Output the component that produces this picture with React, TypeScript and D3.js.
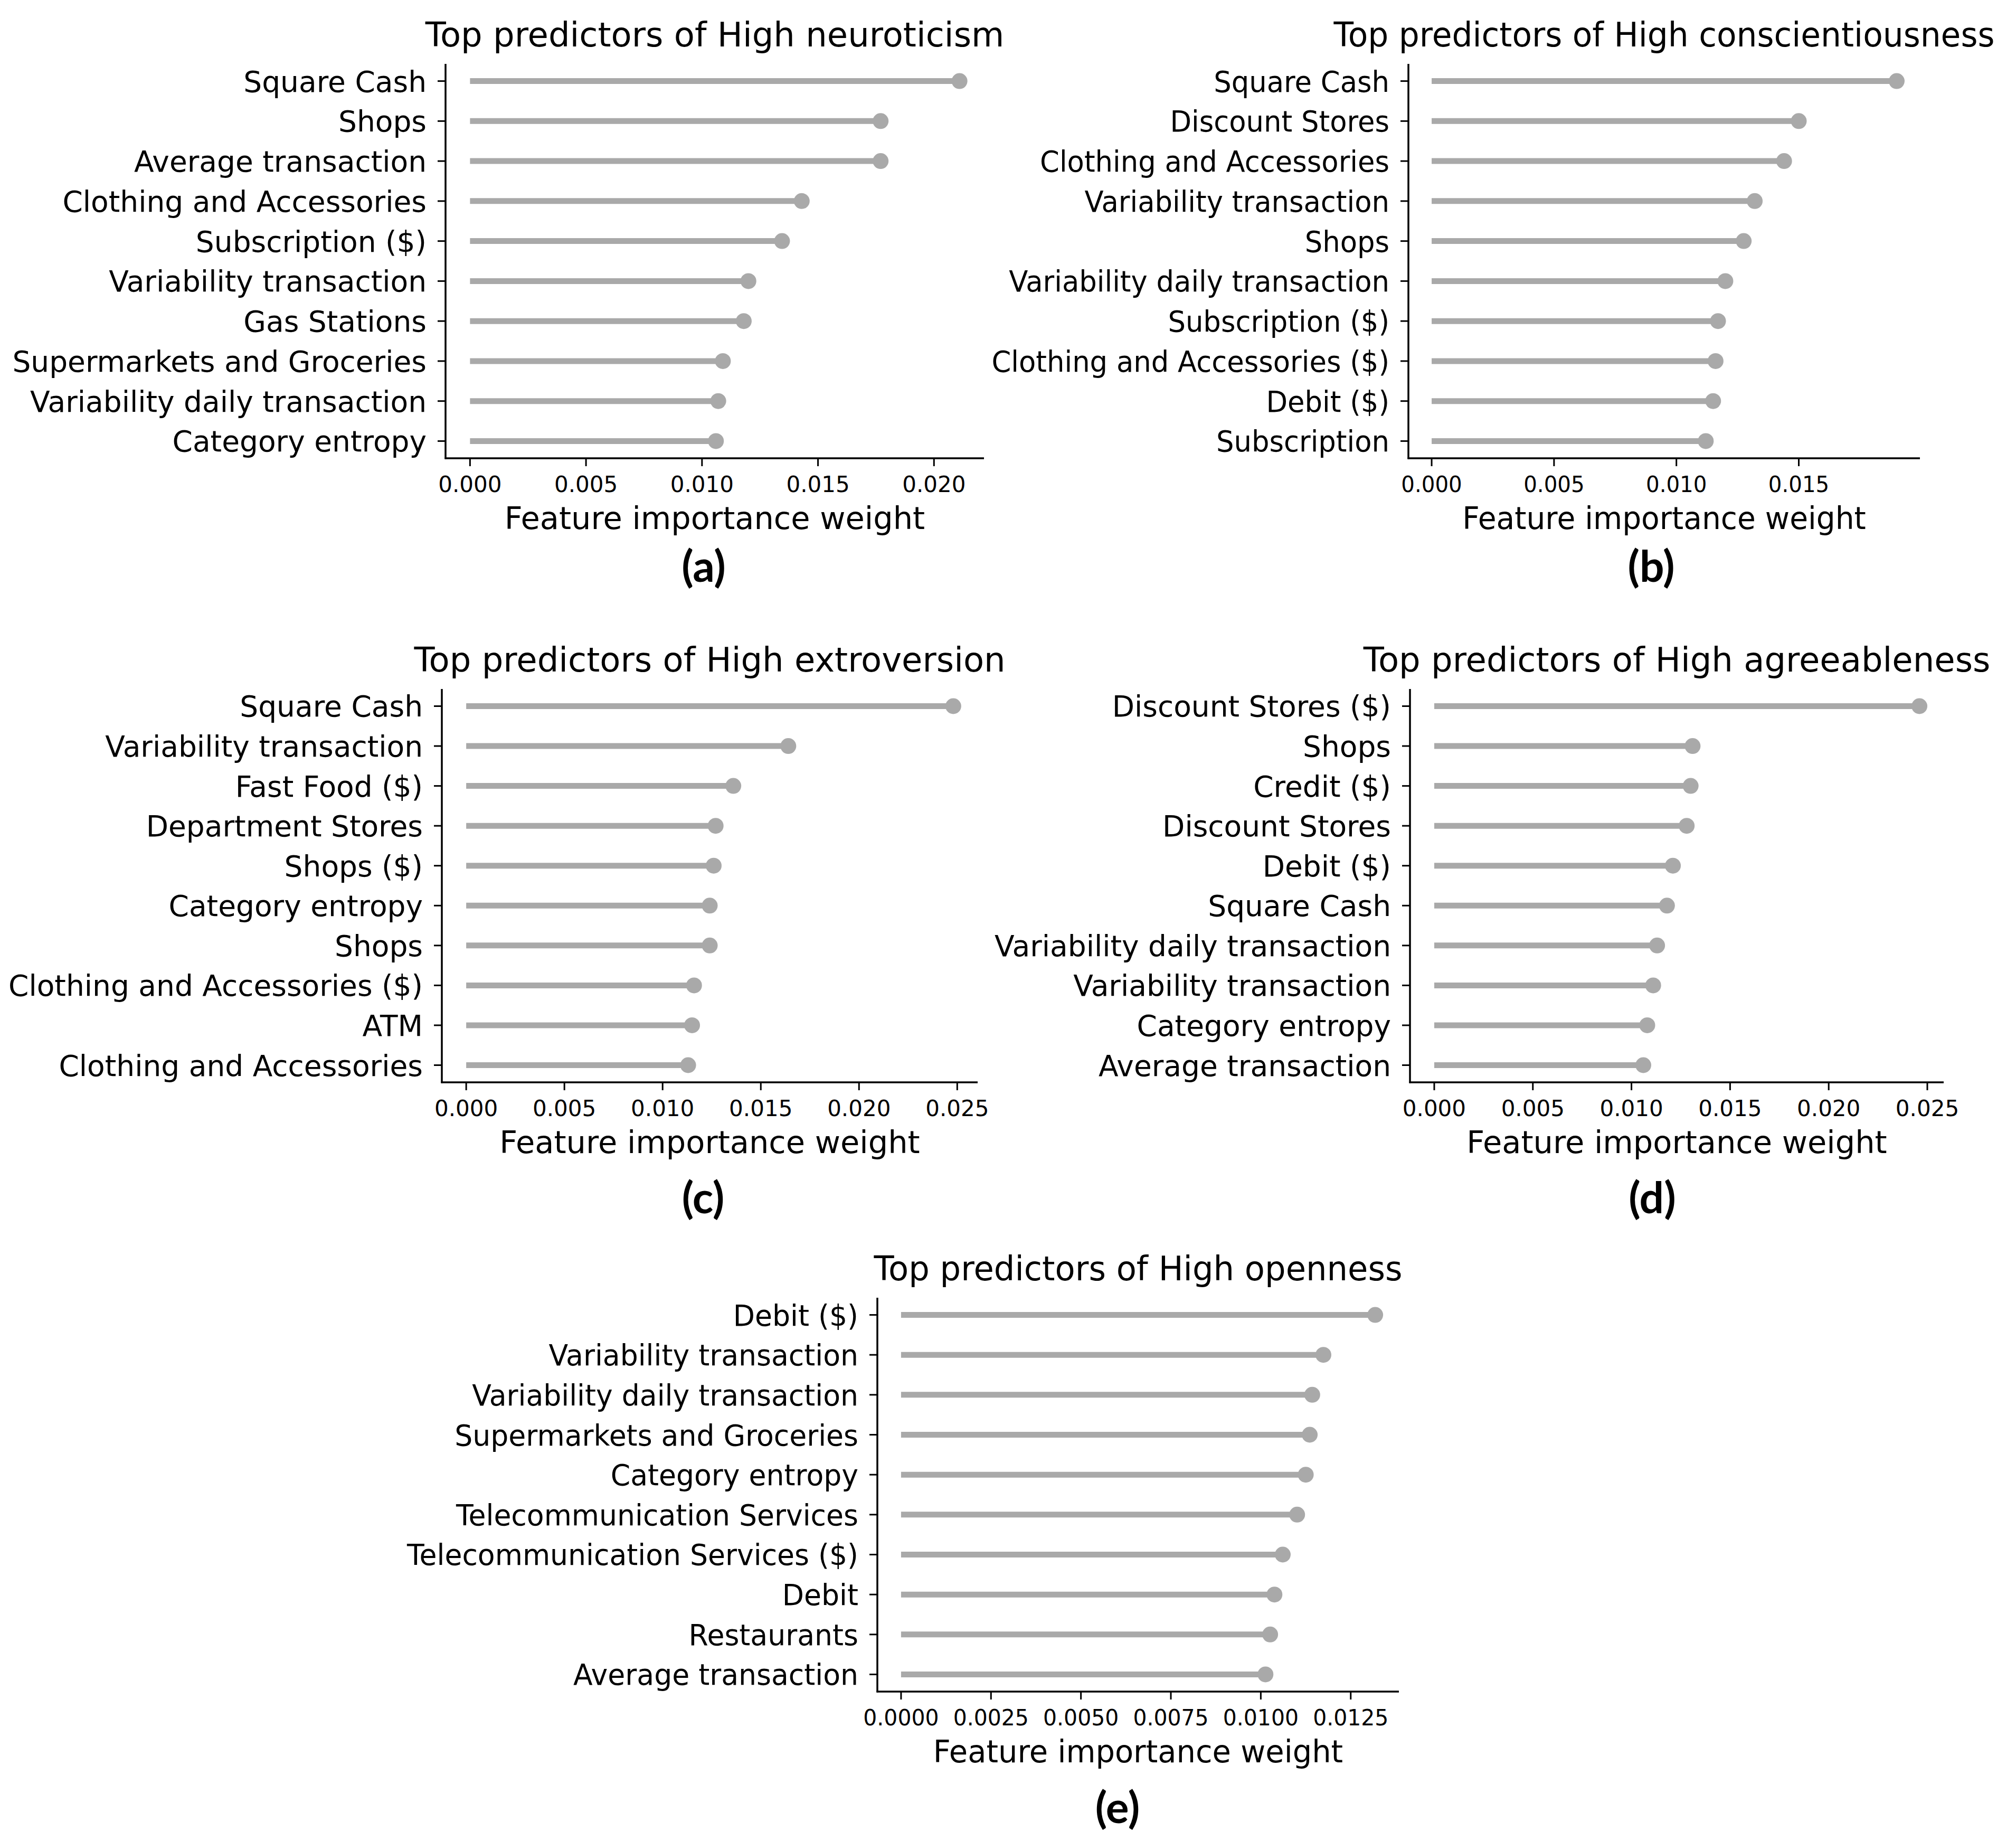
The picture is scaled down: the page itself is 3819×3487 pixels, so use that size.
import { useLayoutEffect } from 'react'
import * as d3 from 'd3'

// ---- data ----
const NEURO_LABELS = ['Square Cash', 'Shops', 'Average transaction', 'Clothing and Accessories', 'Subscription ($)', 'Variability transaction', 'Gas Stations', 'Supermarkets and Groceries', 'Variability daily transaction', 'Category entropy']
const NEURO_VALUES = [0.0211, 0.0177, 0.0177, 0.0143, 0.01345, 0.0120, 0.0118, 0.0109, 0.0107, 0.0106]

const CONSC_LABELS = ['Square Cash', 'Discount Stores', 'Clothing and Accessories', 'Variability transaction', 'Shops', 'Variability daily transaction', 'Subscription ($)', 'Clothing and Accessories ($)', 'Debit ($)', 'Subscription']
const CONSC_VALUES = [0.0190, 0.0150, 0.0144, 0.0132, 0.01275, 0.0120, 0.0117, 0.0116, 0.0115, 0.0112]

const EXTRO_LABELS = ['Square Cash', 'Variability transaction', 'Fast Food ($)', 'Department Stores', 'Shops ($)', 'Category entropy', 'Shops', 'Clothing and Accessories ($)', 'ATM', 'Clothing and Accessories']
const EXTRO_VALUES = [0.0248, 0.0164, 0.0136, 0.0127, 0.0126, 0.0124, 0.0124, 0.0116, 0.0115, 0.0113]

const AGREE_LABELS = ['Discount Stores ($)', 'Shops', 'Credit ($)', 'Discount Stores', 'Debit ($)', 'Square Cash', 'Variability daily transaction', 'Variability transaction', 'Category entropy', 'Average transaction']
const AGREE_VALUES = [0.0246, 0.0131, 0.0130, 0.0128, 0.0121, 0.0118, 0.0113, 0.0111, 0.0108, 0.0106]

const OPEN_LABELS = ['Debit ($)', 'Variability transaction', 'Variability daily transaction', 'Supermarkets and Groceries', 'Category entropy', 'Telecommunication Services', 'Telecommunication Services ($)', 'Debit', 'Restaurants', 'Average transaction']
const OPEN_VALUES = [0.01318, 0.01174, 0.01143, 0.01136, 0.01125, 0.01101, 0.01061, 0.01038, 0.01026, 0.01013]

const TICKS_020 = [0, 0.005, 0.01, 0.015, 0.02]
const TICKS_015 = [0, 0.005, 0.01, 0.015]
const TICKS_025 = [0, 0.005, 0.01, 0.015, 0.02, 0.025]
const TICKS_0125 = [0, 0.0025, 0.005, 0.0075, 0.01, 0.0125]

const X_LABEL = 'Feature importance weight'

// ---- layout (pixel boxes of each axes; sx = horizontal squeeze of the pasted panel) ----
interface Box { left: number; right: number; top: number; bottom: number; tagX: number; tagY: number; sx: number }

const PANELS = [
  { title: 'Top predictors of High neuroticism', tag: '(a)', labels: NEURO_LABELS, values: NEURO_VALUES, ticks: TICKS_020, fmt: '.3f',
    box: { left: 844, right: 1864, top: 121, bottom: 868, tagX: 1333, tagY: 1102, sx: 1 } },
  { title: 'Top predictors of High conscientiousness', tag: '(b)', labels: CONSC_LABELS, values: CONSC_VALUES, ticks: TICKS_015, fmt: '.3f',
    box: { left: 2668, right: 3637, top: 121, bottom: 868, tagX: 3128, tagY: 1102, sx: 0.96 } },
  { title: 'Top predictors of High extroversion', tag: '(c)', labels: EXTRO_LABELS, values: EXTRO_VALUES, ticks: TICKS_025, fmt: '.3f',
    box: { left: 837, right: 1852, top: 1305, bottom: 2050, tagX: 1332, tagY: 2298, sx: 1 } },
  { title: 'Top predictors of High agreeableness', tag: '(d)', labels: AGREE_LABELS, values: AGREE_VALUES, ticks: TICKS_025, fmt: '.3f',
    box: { left: 2671, right: 3682, top: 1305, bottom: 2050, tagX: 3130, tagY: 2298, sx: 1 } },
  { title: 'Top predictors of High openness', tag: '(e)', labels: OPEN_LABELS, values: OPEN_VALUES, ticks: TICKS_0125, fmt: '.4f',
    box: { left: 1662, right: 2650, top: 2458, bottom: 3204, tagX: 2117, tagY: 3453, sx: 0.975 } },
]

const GREY = '#a9a9a9'
const FONT = '"DejaVu Sans", sans-serif'

function T({ x, y, sx, size, anchor, children }:
  { x: number; y: number; sx: number; size: number; anchor: 'start' | 'middle' | 'end'; children: string }) {
  return (
    <text transform={`translate(${x},${y}) scale(${sx},1)`} textAnchor={anchor} fontSize={size} fontFamily={FONT}>{children}</text>
  )
}

function Lollipop({ title, tag, labels, values, ticks, fmt, box }:
  { title: string; tag: string; labels: string[]; values: number[]; ticks: number[]; fmt: string; box: Box }) {
  const max = d3.max(values) as number
  // matplotlib default 5% margins around [0, max]
  const x = d3.scaleLinear().domain([-0.05 * max, 1.05 * max]).range([box.left, box.right])
  const n = labels.length
  const y = d3.scaleLinear().domain([-0.43, n - 1 + 0.43]).range([box.top, box.bottom])
  const f = d3.format(fmt)
  const cx = (box.left + box.right) / 2
  const sx = box.sx

  return (
    <g>
      <T x={cx} y={box.top - 33} sx={sx} size={64} anchor="middle">{title}</T>

      {values.map((v, i) => (
        <g key={i}>
          <line x1={x(0)} x2={x(v)} y1={y(i)} y2={y(i)} stroke={GREY} strokeWidth={11} />
          <circle cx={x(v)} cy={y(i)} r={15} fill={GREY} />
        </g>
      ))}

      {/* left axis */}
      <line x1={box.left} x2={box.left} y1={box.top} y2={box.bottom + 1.5} stroke="#000" strokeWidth={3.5} />
      {labels.map((l, i) => (
        <g key={l + i}>
          <line x1={box.left - 15} x2={box.left} y1={y(i)} y2={y(i)} stroke="#000" strokeWidth={3} />
          <T x={box.left - 36} y={y(i) + 20} sx={sx} size={55} anchor="end">{l}</T>
        </g>
      ))}

      {/* bottom axis */}
      <line x1={box.left - 1.5} x2={box.right} y1={box.bottom} y2={box.bottom} stroke="#000" strokeWidth={3.5} />
      {ticks.map(t => (
        <g key={t}>
          <line x1={x(t)} x2={x(t)} y1={box.bottom} y2={box.bottom + 15} stroke="#000" strokeWidth={3} />
          <T x={x(t)} y={box.bottom + 64} sx={sx} size={42} anchor="middle">{f(t)}</T>
        </g>
      ))}
      <T x={cx} y={box.bottom + 134} sx={sx} size={59} anchor="middle">{X_LABEL}</T>

      <text x={box.tagX} y={box.tagY} textAnchor="middle" fontSize={82} fontWeight="bold" fontFamily='Lato, "Open Sans", sans-serif'>{tag}</text>
    </g>
  )
}

export default function App() {
  useLayoutEffect(() => { document.body.style.margin = '0' }, [])
  return (
    <svg width={3819} height={3487} viewBox="0 0 3819 3487" style={{ display: 'block', background: '#fff' }}>
      <rect width={3819} height={3487} fill="#fff" />
      {PANELS.map(p => <Lollipop key={p.tag} {...p} />)}
    </svg>
  )
}
